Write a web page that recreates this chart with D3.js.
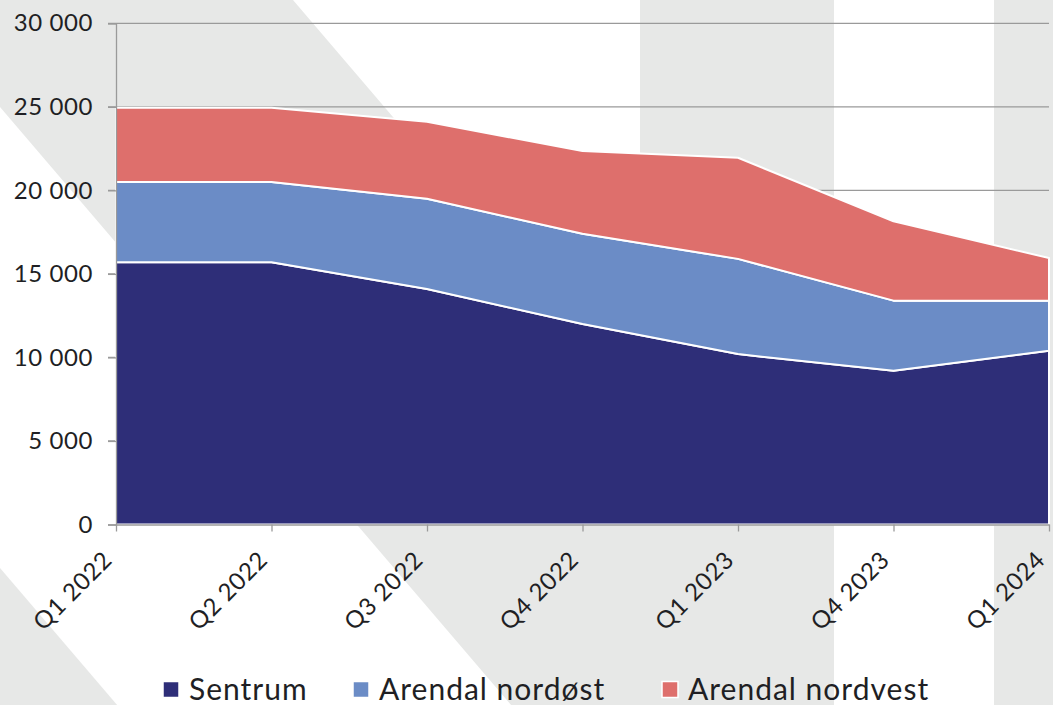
<!DOCTYPE html>
<html>
<head>
<meta charset="utf-8">
<script src="https://cdn.jsdelivr.net/npm/d3@7"></script>
<style>
  html, body { margin: 0; padding: 0; background: #fff; }
  svg { display: block; font-family: Lato, "Noto Sans", sans-serif; }
</style>
</head>
<body>
<svg id="chart" width="1053" height="705"></svg>
<script>
// ---- data ----
const categories = ["Q1 2022", "Q2 2022", "Q3 2022", "Q4 2022", "Q1 2023", "Q4 2023", "Q1 2024"];
const seriesNames = ["Sentrum", "Arendal nordøst", "Arendal nordvest"];
const sentrum  = [15700, 15700, 14100, 12000, 10200, 9200, 10400];
const nordost  = [4800, 4800, 5400, 5400, 5700, 4200, 3000];
const nordvest = [4450, 4450, 4600, 4950, 6050, 4750, 2550];
const yTicks = [0, 5000, 10000, 15000, 20000, 25000, 30000];

// ---- styles ----
const colors = ["#2e2e78", "#6b8cc6", "#de6f6c"];
const bgGrey = "#e7e8e7";
const axisColor = "#9a9a9a";
const textColor = "#1f1f24";

const W = 1053, H = 705;
const plotLeft = 116, plotRight = 1049, plotTop = 23.3, plotBottom = 524.5;

const svg = d3.select("#chart");

// ---- decorative background ----
const bg = svg.append("g");
const k = 1.17;
bg.append("polygon")
  .attr("points", [[-91.5, 0], [293, 0], [834, (834 - 293) * k], [834, H], [-91.5 + H / k, H]].map(p => p.join(",")).join(" "))
  .attr("fill", bgGrey);
bg.append("polygon")
  .attr("points", [[0, 568], [(H - 568) / k, H], [0, H]].map(p => p.join(",")).join(" "))
  .attr("fill", bgGrey);
bg.append("rect").attr("x", 640).attr("y", 0).attr("width", 194).attr("height", H).attr("fill", bgGrey);
bg.append("rect").attr("x", 994).attr("y", 0).attr("width", W - 994).attr("height", H).attr("fill", bgGrey);

// ---- scales ----
const x = d3.scalePoint().domain(categories).range([plotLeft, plotRight]);
const y = d3.scaleLinear().domain([0, 30000]).range([plotBottom, plotTop]);
const fmt = d3.formatLocale({ decimal: ",", thousands: " ", grouping: [3], currency: ["", ""] }).format(",d");

// ---- gridlines ----
svg.append("g")
  .selectAll("line")
  .data(yTicks.filter(d => d > 0))
  .join("line")
  .attr("x1", plotLeft - 8).attr("x2", plotRight)
  .attr("y1", d => y(d)).attr("y2", d => y(d))
  .attr("stroke", axisColor).attr("stroke-width", 1.3);

// ---- stacked areas ----
const rows = categories.map((c, i) => ({ cat: c, s0: sentrum[i], s1: nordost[i], s2: nordvest[i] }));
const stack = d3.stack().keys(["s0", "s1", "s2"]);
const stacked = stack(rows);
const area = d3.area()
  .x(d => x(d.data.cat))
  .y0(d => y(d[0]))
  .y1(d => y(d[1]));

svg.append("g")
  .selectAll("path")
  .data(stacked)
  .join("path")
  .attr("d", area)
  .attr("fill", (d, i) => colors[i])
  .attr("stroke", "#fff")
  .attr("stroke-width", 2)
  .attr("stroke-linejoin", "round");

// ---- y axis ----
const yAxis = svg.append("g")
  .attr("transform", `translate(${plotLeft},0)`)
  .call(d3.axisLeft(y).tickValues(yTicks).tickFormat(fmt).tickSize(8).tickPadding(15));
yAxis.select(".domain").attr("stroke", axisColor).attr("stroke-width", 1.3);
yAxis.selectAll(".tick line").attr("stroke", axisColor).attr("stroke-width", 1.3);
yAxis.selectAll(".tick text")
  .attr("fill", textColor)
  .style("font-size", "24px")
  .style("letter-spacing", "0.6px")
  .style("font-family", "Lato, 'Noto Sans', sans-serif");

// ---- x axis ----
const xAxis = svg.append("g")
  .attr("transform", `translate(0,${plotBottom})`)
  .call(d3.axisBottom(x).tickSize(7).tickSizeOuter(0));
xAxis.select(".domain").attr("stroke", axisColor).attr("stroke-width", 1.3);
xAxis.selectAll(".tick line").attr("stroke", axisColor).attr("stroke-width", 1.3);
xAxis.selectAll(".tick text")
  .attr("fill", textColor)
  .style("font-size", "24px")
  .style("letter-spacing", "0.6px")
  .style("font-family", "Lato, 'Noto Sans', sans-serif")
  .attr("text-anchor", "end")
  .attr("dy", null)
  .attr("y", null)
  .attr("transform", "translate(-3,37) rotate(-45)");

// ---- legend ----
const legendX = [163, 353, 662];
const legend = svg.append("g");
seriesNames.forEach((name, i) => {
  const g = legend.append("g").attr("transform", `translate(${legendX[i]},0)`);
  g.append("rect")
    .attr("x", 0).attr("y", 681.5)
    .attr("width", 16).attr("height", 16)
    .attr("fill", colors[i])
    .attr("stroke", "#fff").attr("stroke-width", 1.5);
  g.append("text")
    .attr("x", 26).attr("y", 700)
    .attr("fill", textColor)
    .style("font-size", "30px")
    .style("letter-spacing", "1px")
    .text(name);
});
</script>
</body>
</html>
